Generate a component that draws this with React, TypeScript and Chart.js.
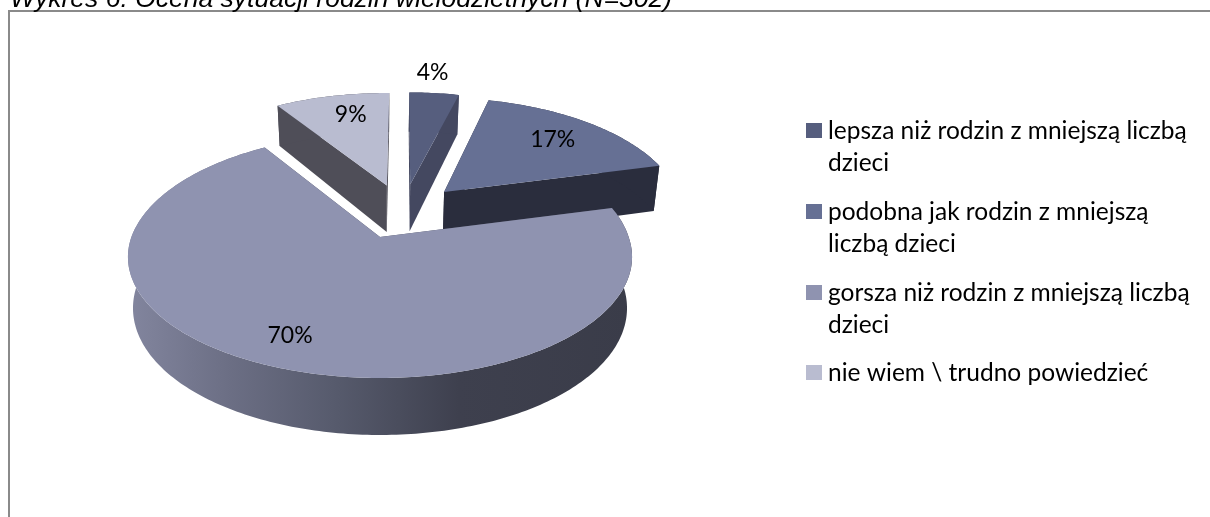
import React, { useEffect, useRef } from "react";
import { Chart, registerables } from "chart.js";

Chart.register(...registerables);

const TITLE = "Wykres 6. Ocena sytuacji rodzin wielodzietnych (N=302)";
const categories: string[][] = [
  ["lepsza niż rodzin z mniejszą liczbą", "dzieci"],
  ["podobna jak rodzin z mniejszą", "liczbą dzieci"],
  ["gorsza niż rodzin z mniejszą liczbą", "dzieci"],
  ["nie wiem \\ trudno powiedzieć"],
];
const values = [4, 17, 70, 9];

const topColors = ["#565e7e", "#667094", "#8f93b0", "#b9bcd0"];
const wallColors = ["#444860", "#2a2d3d", "#4a4c5c", "#4f4e58"];
const labelRadius = [1.351, 0.765, 0.798, 0.81];
const labelAngleShift = [-2.0, -2.0, 1.9, 3.9];
const legendBoxY = [123, 204, 285, 365];
const FONT = "Lato, 'Open Sans', sans-serif";

// Projection of the tilted disc: unit-disc coordinates to screen pixels.
const APEX_X = 380;
const APEX_Y = 237;
const RX = 248.6;
const RY = 117.7;
const PERSPECTIVE = 0.165;
const EXPLODE = 0.25;
const VANISH = 24;

const project = (u: number, v: number) => {
  const s = 1 / (1 - PERSPECTIVE * v);
  const drift = VANISH * (u > 0 ? 1 : 0.4) * Math.max(0, 1 - s);
  return { x: APEX_X + RX * u * s + drift, y: APEX_Y + RY * v * s };
};
const lower = (u: number, v: number) => {
  const p = project(u, v);
  return { x: APEX_X + (p.x - APEX_X) * 0.98, y: p.y + 50 + 7 * v };
};

const pie3d = {
  id: "pie3d",
  beforeDatasetDraw(chart: any) {
    const ctx: CanvasRenderingContext2D = chart.ctx;
    const meta = chart.getDatasetMeta(0);
    const arcs = meta.data as any[];
    const mid = (a: any) => (a.startAngle + a.endAngle) / 2;
    const big = values.indexOf(Math.max(...values));
    const bigMid = mid(arcs[big]);
    const cu = -EXPLODE * Math.cos(bigMid);
    const cv = -EXPLODE * Math.sin(bigMid);

    const shapes = arcs.map((a, i) => {
      const m = mid(a);
      const ou = cu + EXPLODE * Math.cos(m);
      const ov = cv + EXPLODE * Math.sin(m);
      const depthScale = i === big ? 1.03 : 1.06;
      const pts: [number, number][] = [];
      const n = Math.max(8, Math.ceil((a.endAngle - a.startAngle) * 60));
      for (let k = 0; k <= n; k++) {
        const t = a.startAngle + ((a.endAngle - a.startAngle) * k) / n;
        const sv = Math.sin(t);
        pts.push([ou + Math.cos(t), ov + (sv < 0 ? depthScale * sv : sv)]);
      }
      return { i, ou, ov, pts, m };
    });

    const fillPoly = (list: { x: number; y: number }[], fill: any) => {
      ctx.beginPath();
      list.forEach((p, k) => (k ? ctx.lineTo(p.x, p.y) : ctx.moveTo(p.x, p.y)));
      ctx.closePath();
      ctx.fillStyle = fill;
      ctx.fill();
    };

    // Far slices first, the front slice last.
    const order = [...shapes].sort((a, b) => a.ov - b.ov);
    order.forEach((s) => {
      const first = s.pts[0];
      const last = s.pts[s.pts.length - 1];
      const face = (q: [number, number]) => [
        project(s.ou, s.ov),
        project(q[0], q[1]),
        lower(q[0], q[1]),
        lower(s.ou, s.ov),
      ];
      fillPoly(face(first), wallColors[s.i]);
      fillPoly(face(last), wallColors[s.i]);
      const wall = [
        ...s.pts.map((q) => project(q[0], q[1])),
        ...[...s.pts].reverse().map((q) => lower(q[0], q[1])),
      ];
      let wallFill: any = wallColors[s.i];
      if (s.i === big) {
        const g = ctx.createLinearGradient(126, 0, 630, 0);
        g.addColorStop(0, "#83869f");
        g.addColorStop(0.2, "#6c6f85");
        g.addColorStop(0.42, "#565a6c");
        g.addColorStop(0.66, "#3e404e");
        g.addColorStop(1, "#3a3c49");
        wallFill = g;
      }
      fillPoly(wall, wallFill);
      fillPoly(
        [project(s.ou, s.ov), ...s.pts.map((q) => project(q[0], q[1]))],
        topColors[s.i]
      );
    });

    // Value labels
    ctx.font = `23px ${FONT}`;
    ctx.fillStyle = "#000";
    ctx.textAlign = "center";
    ctx.textBaseline = "middle";
    shapes.forEach((s) => {
      const t = s.m + (labelAngleShift[s.i] * Math.PI) / 180;
      const r = labelRadius[s.i];
      const p = project(s.ou + r * Math.cos(t), s.ov + r * Math.sin(t));
      ctx.fillText(`${values[s.i]}%`, p.x, p.y + 1);
    });
    return false;
  },
  afterDraw(chart: any) {
    const ctx: CanvasRenderingContext2D = chart.ctx;
    ctx.save();
    // Frame
    ctx.fillStyle = "#8a8a8a";
    ctx.fillRect(8, 10, 1202, 2);
    ctx.fillRect(8, 10, 2, 507);
    // Clipped caption
    ctx.fillStyle = "#000";
    ctx.textAlign = "left";
    ctx.textBaseline = "alphabetic";
    ctx.font = "italic 26.5px 'Liberation Sans', sans-serif";
    ctx.fillText(TITLE, 10, 7);
    // Legend
    ctx.font = `24.5px ${FONT}`;
    (chart.data.labels as string[][]).forEach((lines, i) => {
      const y = legendBoxY[i];
      ctx.fillStyle = topColors[i];
      ctx.fillRect(806, y, 16, 15);
      ctx.fillStyle = "#000";
      lines.forEach((line, k) => ctx.fillText(line, 828, y + 16 + k * 31.5));
    });
    ctx.restore();
  },
};

export default function App() {
  const ref = useRef<HTMLCanvasElement>(null);
  useEffect(() => {
    document.body.style.margin = "0";
    document.body.style.background = "#fff";
    const chart = new Chart(ref.current as HTMLCanvasElement, {
      type: "pie",
      data: {
        labels: categories as any,
        datasets: [{ data: values, backgroundColor: topColors, borderWidth: 0 }],
      },
      options: {
        animation: false,
        responsive: false,
        plugins: {
          legend: { display: false },
          tooltip: { enabled: false },
        },
      },
      plugins: [pie3d as any],
    });
    return () => chart.destroy();
  }, []);
  return <canvas ref={ref} width={1210} height={517} style={{ display: "block" }} />;
}
